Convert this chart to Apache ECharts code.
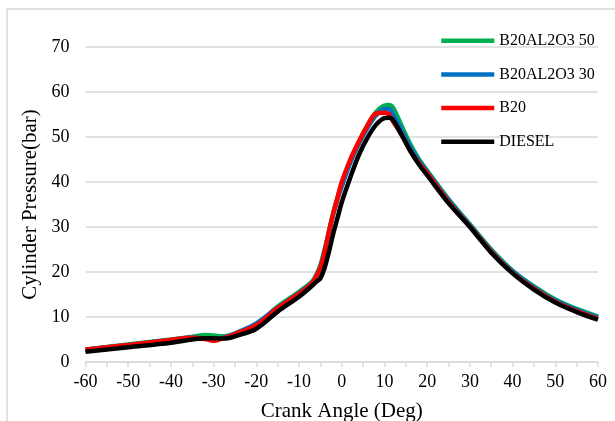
<!DOCTYPE html>
<html>
<head>
<meta charset="utf-8">
<script src="https://cdn.jsdelivr.net/npm/echarts@6/dist/echarts.min.js"></script>
<style>
    html, body { margin: 0; padding: 0; background: #fff; }
    #chart { width: 615px; height: 421px; }
</style>
</head>
<body>
<div id="chart"></div>
<script>
// crank angle (deg) shared by every curve
let angles = [-60, -50, -40, -35, -32, -30, -28, -26, -25, -20, -15, -10, -7, -6, -5, -4, -3, -2, -1, 0,
    2, 4, 6, 8, 10, 11, 12, 14, 16, 18, 20, 25, 30, 35, 40, 45, 50, 55, 60];

let seriesNames = ['B20AL2O3 50', 'B20AL2O3 30', 'B20', 'DIESEL'];
let seriesColors = ['#00b050', '#0070c0', '#ff0000', '#000000'];

let b20al50 = [2.8, 3.9, 5.0, 5.6, 6.0, 5.9, 5.7, 6.0, 6.3, 8.3, 12.3, 15.6, 17.8, 19.3, 21.5, 25, 29, 33, 36.5, 39.5,
    44.5, 48.8, 52.5, 55.5, 57, 57.1, 56.5, 52.5, 48.5, 45.2, 42.5, 36.2, 30.6, 25.0, 20.3, 16.8, 13.9, 11.8, 10.1];
let b20al30 = [2.7, 3.8, 4.9, 5.4, 5.2, 4.9, 5.3, 5.9, 6.3, 8.6, 12.1, 15.3, 17.6, 19, 21, 24.8, 28.8, 32.8, 36.2, 39,
    44.3, 48.5, 52, 54.8, 56.2, 56.2, 55, 51.5, 47.8, 44.8, 42.3, 36, 30.4, 24.8, 20.1, 16.6, 13.7, 11.6, 9.9];
let b20 = [2.7, 3.8, 4.9, 5.4, 5.1, 4.7, 5.2, 5.8, 6.2, 8.2, 12.0, 15.2, 17.5, 19, 21, 24.5, 29, 33, 36.5, 40,
    45, 49, 52.5, 55.2, 55.4, 55.1, 53.5, 50.5, 47, 44.3, 42, 35.6, 30.1, 24.5, 19.8, 16.3, 13.4, 11.3, 9.6];
let diesel = [2.3, 3.3, 4.3, 5.0, 5.3, 5.3, 5.2, 5.4, 5.7, 7.4, 11.2, 14.5, 16.9, 17.8, 18.6, 21, 24.5, 28.5, 32, 35.5,
    41, 46, 49.8, 52.7, 54.2, 54.3, 53.8, 50.5, 47, 44, 41.5, 35.3, 30.0, 24.3, 19.7, 16.1, 13.2, 11.1, 9.4];

let seriesValues = [b20al50, b20al30, b20, diesel];

let fontName = '"Liberation Serif", "Times New Roman", serif';

function buildSeries() {
    let list = [];
    for (let i in seriesNames) {
        let points = [];
        for (let j in angles) {
            points.push([angles[j], seriesValues[i][j]]);
        }
        list.push({
            name: seriesNames[i],
            type: 'line',
            data: points,
            smooth: 0.35,
            symbol: 'none',
            lineStyle: {color: seriesColors[i], width: 4.5},
            itemStyle: {color: seriesColors[i]}
        });
    }
    return list;
}

let myChart = echarts.init(document.getElementById('chart'));
let option = {
    animation: false,
    backgroundColor: '#fff',
    textStyle: {fontFamily: fontName, color: '#000'},
    graphic: [{
        type: 'rect',
        shape: {x: 7, y: 9, width: 700, height: 500},
        style: {fill: 'none', stroke: '#d9d9d9', lineWidth: 1.5},
        silent: true
    }],
    grid: {left: 85.5, right: 17, top: 47, bottom: 59, outerBoundsMode: 'none', containLabel: false},
    legend: {
        orient: 'vertical',
        left: 434,
        top: 27.7,
        itemWidth: 53,
        itemHeight: 14,
        itemGap: 17.7,
        itemStyle: {opacity: 0},
        lineStyle: {width: 4.5},
        textStyle: {fontFamily: fontName, fontSize: 16, color: '#000'},
        data: seriesNames
    },
    xAxis: {
        type: 'value',
        min: -60,
        max: 60,
        interval: 10,
        name: 'Crank Angle (Deg)',
        nameLocation: 'middle',
        nameGap: 39,
        nameTextStyle: {fontFamily: fontName, fontSize: 21, color: '#000'},
        axisLine: {lineStyle: {color: '#d9d9d9', width: 1.5}},
        axisTick: {show: true, length: 5, lineStyle: {color: '#d9d9d9', width: 1.5}},
        minorTick: {show: true, splitNumber: 2, length: 5, lineStyle: {color: '#d9d9d9', width: 1.5}},
        splitLine: {show: false},
        axisLabel: {fontFamily: fontName, fontSize: 18, color: '#000', margin: 11}
    },
    yAxis: {
        type: 'value',
        min: 0,
        max: 70,
        interval: 10,
        name: 'Cylinder Pressure(bar)',
        nameLocation: 'middle',
        nameGap: 39,
        nameTextStyle: {fontFamily: fontName, fontSize: 21, color: '#000'},
        axisLine: {show: false},
        axisTick: {show: false},
        splitLine: {lineStyle: {color: '#d9d9d9', width: 1.5}},
        axisLabel: {fontFamily: fontName, fontSize: 18, color: '#000', margin: 16}
    },
    series: buildSeries()
};
myChart.setOption(option);
</script>
</body>
</html>
